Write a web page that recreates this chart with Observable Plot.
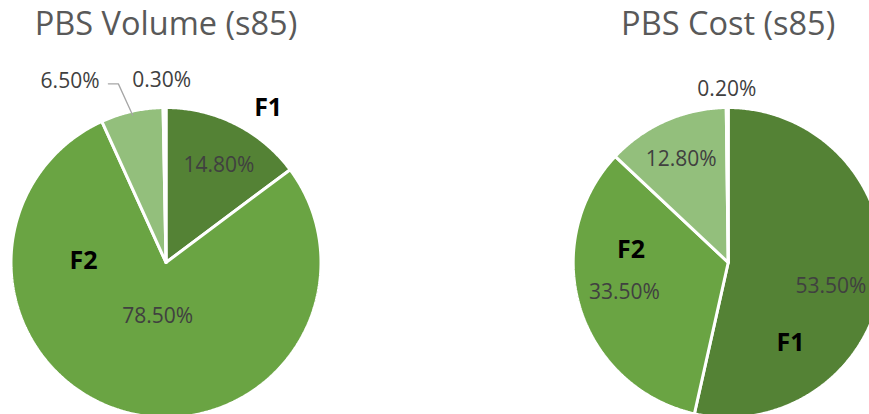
<!DOCTYPE html>
<html><head><meta charset="utf-8">
<script src="https://cdn.jsdelivr.net/npm/d3@7"></script>
<script src="https://cdn.jsdelivr.net/npm/@observablehq/plot@0.6"></script>
<style>html,body{margin:0;padding:0;background:#fff;overflow:hidden}</style>
</head><body><div id="chart"></div>
<script>
// ---------- data ----------
const categories = ["F1", "F2", "F3", "F4"];
const volumeValues = [14.8, 78.5, 6.5, 0.3];
const costValues = [53.5, 33.5, 12.8, 0.2];
const chartTitles = ["PBS Volume (s85)", "PBS Cost (s85)"];
const percentLabels = [["14.80%", "78.50%", "6.50%", "0.30%"], ["53.50%", "33.50%", "12.80%", "0.20%"]];
const namedCategories = ["F1", "F2"];

// ---------- style / layout ----------
const sliceColors = ["#548235", "#6aa443", "#93bf7c", "#c5e0b4"];
const W = 869, H = 414, PX = 153.5;          // pixels per unit radius
const CXpx = [165.5, 727.7], CYpx = 262;     // pie centres in pixels
const font = "'Open Sans', 'Liberation Sans', sans-serif";
// percent label placement: [angle offset from slice mid (deg), radius factor]
const pctLayout = [
  [[2, 0.72], [-5.6, 0.357], [-15.1, 1.337], [-0.8, 1.186]],
  [[6.9, 0.688], [1.2, 0.703], [-0.7, 0.74], [-0.1, 1.126]]
];
const leaderFor = [[false, false, true, false], [false, false, false, false]];
// category name placement: [angle offset from slice mid, radius factor]
const nameLayout = [
  [[6.9, 1.205], [76.8, 0.538]],
  [[45.8, 0.661], [24.7, 0.639]]
];
const titleYpx = 24;

const xDomain = [-CXpx[0] / PX, (W - CXpx[0]) / PX];
const yDomain = [-(H - CYpx) / PX, CYpx / PX];
const centers = CXpx.map(c => [(c - CXpx[0]) / PX, 0]);
const R = 155 / PX;

const polar = (c, deg, r) => {
  const t = deg * Math.PI / 180;
  return {x: c[0] + r * Math.sin(t), y: c[1] + r * Math.cos(t)};
};

const marks = [];
const pctText = [], nameText = [], titleText = [];
[volumeValues, costValues].forEach((values, p) => {
  const c = centers[p];
  const total = d3.sum(values);
  let acc = 0;
  values.forEach((v, i) => {
    const a0 = acc / total * 360; acc += v; const a1 = acc / total * 360;
    const pts = [{x: c[0], y: c[1]}];
    const n = Math.max(2, Math.ceil((a1 - a0) / 0.5));
    for (let k = 0; k <= n; k++) pts.push(polar(c, a0 + (a1 - a0) * k / n, R));
    pts.push({x: c[0], y: c[1]});
    marks.push(Plot.line(pts, {x: "x", y: "y", fill: sliceColors[i], stroke: "white", strokeWidth: 3, strokeLinejoin: "miter"}));
    const mid = (a0 + a1) / 2;
    const [off, rf] = pctLayout[p][i];
    const lp = polar(c, mid + off, rf);
    pctText.push({...lp, text: percentLabels[p][i]});
    if (leaderFor[p][i]) {
      const edge = polar(c, mid, 0.985);
      marks.push(Plot.line([
        edge,
        {x: lp.x + 48.3 / PX, y: lp.y - 2.8 / PX},
        {x: lp.x + 38.3 / PX, y: lp.y - 2.8 / PX}
      ], {x: "x", y: "y", stroke: "#a6a6a6", strokeWidth: 1.3}));
    }
    const ni = namedCategories.indexOf(categories[i]);
    if (ni >= 0) {
      const [o2, r2] = nameLayout[p][ni];
      nameText.push({...polar(c, mid + o2, r2), text: categories[i]});
    }
  });
  titleText.push({x: c[0], y: (CYpx - titleYpx) / PX, text: chartTitles[p]});
});

marks.push(Plot.text(pctText, {x: "x", y: "y", text: "text", fontSize: 21, fill: "#404040", fontFamily: font}));
marks.push(Plot.text(nameText, {x: "x", y: "y", text: "text", fontSize: 25, fontWeight: "bold", fill: "#000", fontFamily: font}));
marks.push(Plot.text(titleText, {x: "x", y: "y", text: "text", fontSize: 32.5, fill: "#595959", fontFamily: font}));

const chart = Plot.plot({
  width: W, height: H, margin: 0,
  x: {domain: xDomain, range: [0, W], axis: null},
  y: {domain: yDomain, range: [H, 0], axis: null},
  style: {fontFamily: font, background: "white", overflow: "hidden"},
  marks
});
document.getElementById("chart").appendChild(chart);
</script>
</body></html>
